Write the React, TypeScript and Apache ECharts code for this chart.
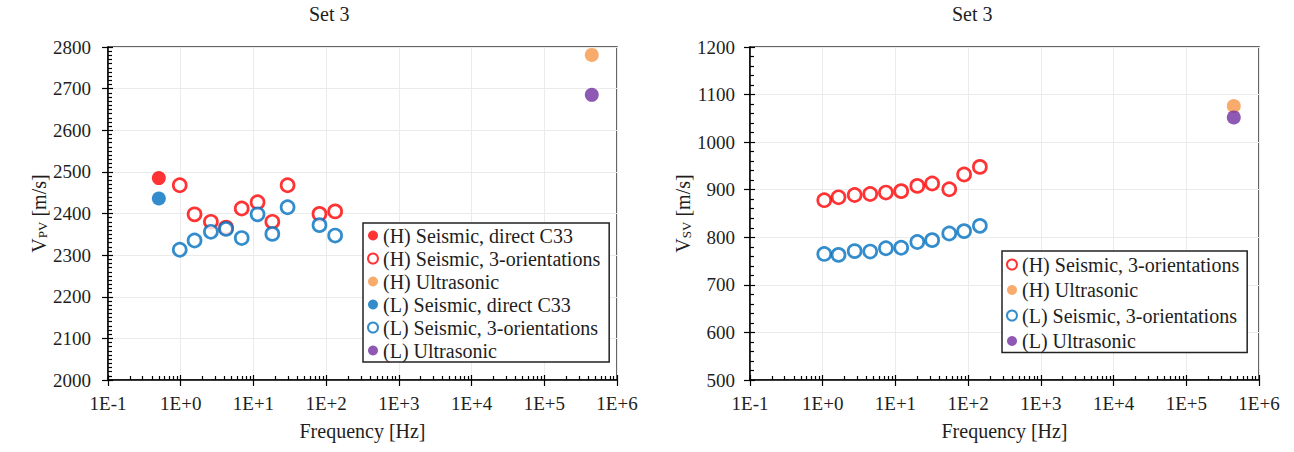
import React, { useEffect, useRef } from "react";
import * as echarts from "echarts";

const FONT = "Liberation Serif, serif";
const TEXT = "#1e1e1e";

// Colours of the six data sets
const RED = "#ff0000";
const BLUE = "#0070c0";
const ORANGE = "#f79646";
const PURPLE = "#7030a0";

// ---- Left panel: V_PV ----
const pvSeismicFreq = [0.97, 1.55, 2.6, 4.2, 6.9, 11.4, 18.2, 29.5, 81, 133];
const pvSeismicH = [2468, 2398, 2380, 2366, 2412, 2427, 2380, 2468, 2399, 2405];
const pvSeismicL = [2313, 2335, 2356, 2363, 2341, 2398, 2351, 2415, 2372, 2347];
const pvDirectFreq = 0.5;
const pvDirectH = 2485;
const pvDirectL = 2436;
const pvUltraH = 2781;
const pvUltraL = 2685;

// ---- Right panel: V_SV ----
const svSeismicFreq = [1.05, 1.65, 2.75, 4.5, 7.4, 12, 20, 32, 55, 88, 145];
const svSeismicH = [878, 884, 889, 891, 894, 897, 908, 913, 901, 932, 948];
const svSeismicL = [765, 763, 771, 770, 777, 778, 790, 794, 808, 813, 824];
const svUltraH = 1076;
const svUltraL = 1052;

const ultrasonicFreq = 450000;

// Axis settings
const xTickLabels = ["1E-1", "1E+0", "1E+1", "1E+2", "1E+3", "1E+4", "1E+5", "1E+6"];
const xMinExp = -1;
const xMaxExp = 6;
const pvRange = [2000, 2800];
const svRange = [500, 1200];

const names = {
  hDirect: "(H) Seismic, direct C33",
  hSeismic: "(H) Seismic, 3-orientations",
  hUltra: "(H) Ultrasonic",
  lDirect: "(L) Seismic, direct C33",
  lSeismic: "(L) Seismic, 3-orientations",
  lUltra: "(L) Ultrasonic",
};

const pairs = (xs: number[], ys: number[]) => xs.map((x, i) => [x, ys[i]]);

const tick = () => ({ color: "#000", width: 1.2 });

// Two log axes per panel: one carries labels and outward ticks,
// the other draws inward major ticks plus the 2..9 minor ticks.
function xAxes(gridIndex: number) {
  const base = () => ({
    type: "log",
    logBase: 10,
    gridIndex,
    position: "bottom",
    min: Math.pow(10, xMinExp),
    max: Math.pow(10, xMaxExp),
  });
  return [
    {
      ...base(),
      name: "Frequency [Hz]",
      nameLocation: "middle",
      nameGap: 41,
      nameTextStyle: { fontFamily: FONT, fontSize: 20, color: TEXT },
      axisLine: { show: true, lineStyle: { color: "#000", width: 1.5 } },
      axisTick: { show: true, length: 6, lineStyle: tick() },
      axisLabel: {
        fontFamily: FONT,
        fontSize: 19,
        color: TEXT,
        margin: 14,
        hideOverlap: false,
        showMinLabel: true,
        showMaxLabel: true,
        formatter: (v: number) => xTickLabels[Math.round(Math.log10(v)) - xMinExp] ?? "",
      },
      splitLine: { show: true, lineStyle: { color: "#ebebeb", width: 1 } },
    },
    {
      ...base(),
      axisLine: { show: false },
      axisTick: { show: true, inside: true, length: 5, lineStyle: tick() },
      minorTick: { show: true, splitNumber: 9, length: 4, lineStyle: tick() },
      axisLabel: { show: false },
      splitLine: { show: false },
    },
  ];
}

function yAxes(gridIndex: number, range: number[], minorSplit: number, sub: string, nameGap: number, labelMargin: number) {
  const base = () => ({ type: "value", gridIndex, position: "left", min: range[0], max: range[1], interval: 100 });
  return [
    {
      ...base(),
      name: `{a|V}{b|${sub}}{a| [m/s]}`,
      nameLocation: "middle",
      nameGap,
      nameRotate: 90,
      nameTextStyle: {
        fontFamily: FONT,
        fontSize: 20,
        color: TEXT,
        rich: {
          a: { fontFamily: FONT, fontSize: 20, color: TEXT },
          b: { fontFamily: FONT, fontSize: 13, color: TEXT, verticalAlign: "bottom" },
        },
      },
      axisLine: { show: true, lineStyle: { color: "#000", width: 1.5 } },
      axisTick: { show: true, inside: true, length: 5, lineStyle: tick() },
      minorTick: { show: true, splitNumber: minorSplit, length: 4, lineStyle: tick() },
      axisLabel: {
        fontFamily: FONT,
        fontSize: 19,
        color: TEXT,
        margin: labelMargin,
        formatter: (v: number) => String(v),
      },
      splitLine: { show: true, lineStyle: { color: "#ebebeb", width: 1 } },
    },
    {
      ...base(),
      axisLine: { show: false },
      axisTick: { show: true, length: 6, lineStyle: tick() },
      axisLabel: { show: false },
      splitLine: { show: false },
    },
  ];
}

function scatter(name: string, axis: number, data: number[][], color: string, open: boolean) {
  return {
    type: "scatter",
    name,
    xAxisIndex: axis,
    yAxisIndex: axis,
    data,
    symbol: "circle",
    symbolSize: open ? 13 : 14,
    itemStyle: open ? { color: "#ffffff", borderColor: color, borderWidth: 2.7 } : { color },
    emphasis: { disabled: true },
  };
}

const legendBase = () => ({
  orient: "vertical",
  icon: "circle",
  itemWidth: 10,
  itemHeight: 10,
  borderColor: "#222",
  borderWidth: 1.5,
  backgroundColor: "#ffffff",
  borderRadius: 0,
  selectedMode: false,
  textStyle: { fontFamily: FONT, fontSize: 20, color: TEXT, lineHeight: 23 },
});

export default function App() {
  const ref = useRef<HTMLDivElement>(null);

  useEffect(() => {
    if (!ref.current) return;
    const chart = echarts.init(ref.current, null, { renderer: "svg" });

    const option: any = {
      animation: false,
      backgroundColor: "#ffffff",
      textStyle: { fontFamily: FONT, color: TEXT },
      title: [
        { text: "Set 3", left: 309, top: 4, padding: 0, textStyle: { fontFamily: FONT, fontSize: 20, fontWeight: "normal", color: TEXT } },
        { text: "Set 3", left: 952, top: 4, padding: 0, textStyle: { fontFamily: FONT, fontSize: 20, fontWeight: "normal", color: TEXT } },
      ],
      grid: [
        { left: 108, top: 47, width: 509, height: 333, show: true, borderColor: "#333", borderWidth: 1.5, backgroundColor: "rgba(0,0,0,0)" },
        { left: 750, top: 47, width: 509, height: 333, show: true, borderColor: "#333", borderWidth: 1.5, backgroundColor: "rgba(0,0,0,0)" },
      ],
      xAxis: [...xAxes(0), ...xAxes(1)],
      yAxis: [
        ...yAxes(0, pvRange, 10, "PV", 58, 17),
        ...yAxes(1, svRange, 5, "SV", 57, 15),
      ],
      legend: [
        {
          ...legendBase(),
          left: 363,
          top: 223,
          padding: [1, 9, 0, 4],
          itemGap: 0,
          data: [names.hDirect, names.hSeismic, names.hUltra, names.lDirect, names.lSeismic, names.lUltra],
        },
        {
          ...legendBase(),
          left: 1002,
          top: 251,
          padding: [2, 8, 0, 4],
          itemGap: 2.5,
          data: [names.hSeismic, names.hUltra, names.lSeismic, names.lUltra],
        },
      ],
      series: [
        // left panel
        scatter(names.hDirect, 0, [[pvDirectFreq, pvDirectH]], RED, false),
        scatter(names.hSeismic, 0, pairs(pvSeismicFreq, pvSeismicH), RED, true),
        scatter(names.hUltra, 0, [[ultrasonicFreq, pvUltraH]], ORANGE, false),
        scatter(names.lDirect, 0, [[pvDirectFreq, pvDirectL]], BLUE, false),
        scatter(names.lSeismic, 0, pairs(pvSeismicFreq, pvSeismicL), BLUE, true),
        scatter(names.lUltra, 0, [[ultrasonicFreq, pvUltraL]], PURPLE, false),
        // right panel
        scatter(names.hSeismic, 2, pairs(svSeismicFreq, svSeismicH), RED, true),
        scatter(names.hUltra, 2, [[ultrasonicFreq, svUltraH]], ORANGE, false),
        scatter(names.lSeismic, 2, pairs(svSeismicFreq, svSeismicL), BLUE, true),
        scatter(names.lUltra, 2, [[ultrasonicFreq, svUltraL]], PURPLE, false),
      ],
    };

    chart.setOption(option);
    return () => chart.dispose();
  }, []);

  return (
    <div
      ref={ref}
      style={{ position: "absolute", left: 0, top: 0, width: 1294, height: 452, background: "#fff" }}
    />
  );
}
